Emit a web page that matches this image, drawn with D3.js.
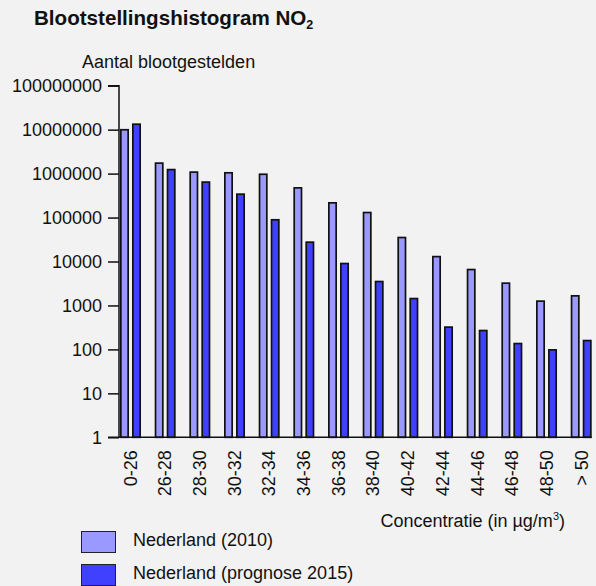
<!DOCTYPE html>
<html>
<head>
<meta charset="utf-8">
<script src="https://cdn.jsdelivr.net/npm/d3@7"></script>
<style>
  html, body { margin: 0; padding: 0; background: #f2f2f2; }
  svg { display: block; }
  text { font-family: "Liberation Sans", Arial, sans-serif; fill: #111; }
</style>
</head>
<body>
<svg id="chart" width="596" height="586"></svg>
<script>
const categories = ["0-26","26-28","28-30","30-32","32-34","34-36","36-38","38-40","40-42","42-44","44-46","46-48","48-50","> 50"];
const seriesNames = ["Nederland (2010)", "Nederland (prognose 2015)"];
const values2010 = [10400000, 1810000, 1130000, 1090000, 1010000, 495000, 226000, 136000, 36700, 13500, 6860, 3360, 1310, 1730];
const values2015 = [13900000, 1290000, 670000, 356000, 93000, 28800, 9400, 3660, 1500, 336, 281, 142, 102, 166];
const yTickValues = [1, 10, 100, 1000, 10000, 100000, 1000000, 10000000, 100000000];
const colors = ["#9999ff", "#4040ff"];

const svg = d3.select("#chart");

const x = d3.scaleBand().domain(categories).range([120, 591.7]).paddingInner(0.394).paddingOuter(0).align(0);
const xInner = d3.scaleBand().domain([0, 1]).range([0, x.bandwidth()]).paddingInner(0.25).paddingOuter(0);
const y = d3.scaleLog().domain([1, 1e8]).range([437.3, 85.7]);

// Title
const title = svg.append("text").attr("x", 34).attr("y", 25)
  .style("font-size", "20.6px").style("font-weight", "bold");
title.append("tspan").text("Blootstellingshistogram NO");
title.append("tspan").text("2").style("font-size", "12.5px").attr("dy", 4);

// Y axis label
svg.append("text").attr("x", 82).attr("y", 68).style("font-size", "18px").text("Aantal blootgestelden");

// Bars
const data = [];
categories.forEach((c, i) => {
  data.push({ cat: c, s: 0, v: values2010[i] });
  data.push({ cat: c, s: 1, v: values2015[i] });
});
const sw = 1.7;
svg.append("g").selectAll("rect").data(data).join("rect")
  .attr("x", d => x(d.cat) + xInner(d.s) + sw / 2)
  .attr("width", xInner.bandwidth() - sw)
  .attr("y", d => y(d.v) + sw / 2)
  .attr("height", d => y(1) - y(d.v) - sw / 2)
  .attr("fill", d => colors[d.s])
  .attr("stroke", "#111")
  .attr("stroke-width", sw);

// Y axis
const yAxis = d3.axisLeft(y).tickValues(yTickValues).tickFormat(d3.format("d")).tickSize(11).tickPadding(6);
const gy = svg.append("g").attr("transform", "translate(119,0)").call(yAxis);
gy.select(".domain").attr("stroke", "#111").attr("stroke-width", 1.5).attr("d", `M-11,${y(1e8)}H0V${y(1)}`);
gy.selectAll(".tick line").attr("stroke", "#111").attr("stroke-width", 1.5);
gy.selectAll(".tick text").style("font-size", "18px").style("font-family", '"Liberation Sans", Arial, sans-serif').attr("fill", "#111");

// X axis
const xAxis = d3.axisBottom(x).tickSize(0).tickPadding(0);
const gx = svg.append("g").attr("transform", `translate(0,${y(1)})`).call(xAxis);
gx.select(".domain").attr("stroke", "#111").attr("stroke-width", 1.5).attr("d", `M108,0H591.7`);
gx.selectAll(".tick text")
  .style("font-size", "18px").style("font-family", '"Liberation Sans", Arial, sans-serif').attr("fill", "#111")
  .attr("text-anchor", "end")
  .attr("transform", "translate(0,13) rotate(-90)")
  .attr("x", 0).attr("y", 0).attr("dy", "0.35em");

// X axis label
const xl = svg.append("text").attr("x", 565).attr("y", 527).attr("text-anchor", "end").style("font-size", "18px");
xl.append("tspan").text("Concentratie (in µg/m");
xl.append("tspan").text("3").style("font-size", "11px").attr("dy", -7);
xl.append("tspan").text(")").attr("dy", 7);

// Legend
const leg = svg.append("g");
seriesNames.forEach((name, i) => {
  const yy = 531 + i * 33;
  leg.append("rect").attr("x", 81.5).attr("y", yy + 0.5).attr("width", 34).attr("height", 21)
    .attr("fill", colors[i]).attr("stroke", "#222").attr("stroke-width", 1);
  leg.append("text").attr("x", 133).attr("y", yy + 15).style("font-size", "18px").text(name);
});
</script>
</body>
</html>
